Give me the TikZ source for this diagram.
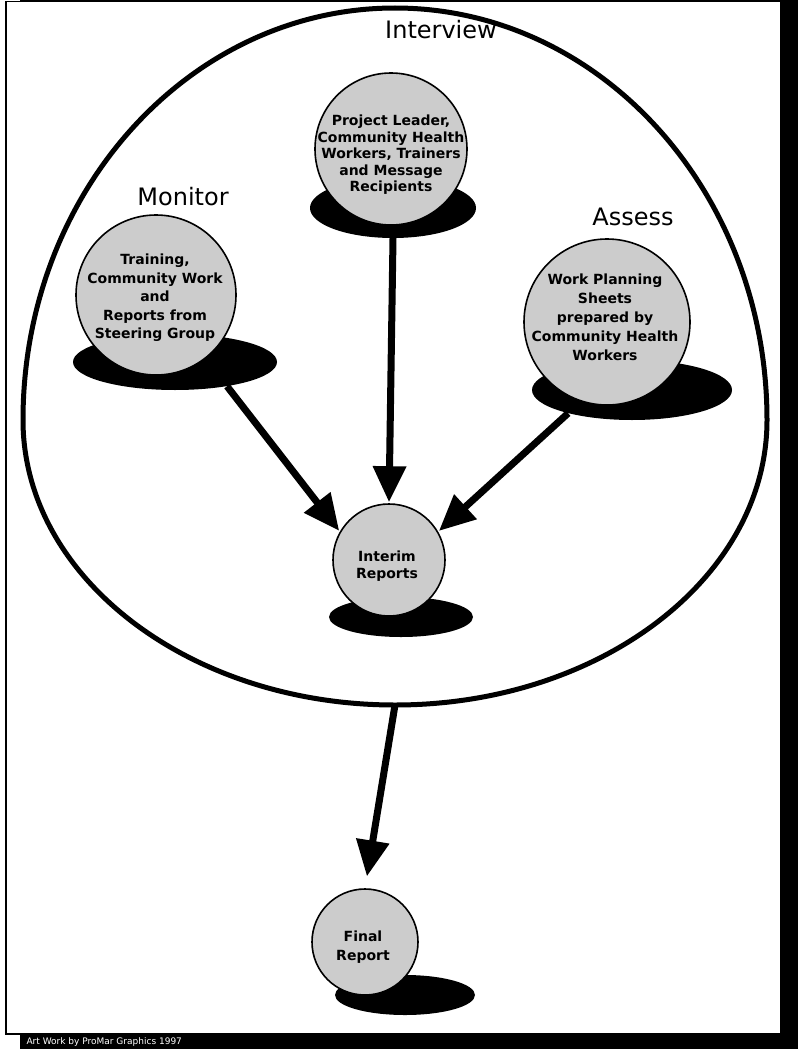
\documentclass[tikz,border=0pt]{standalone}
\usepackage{fontspec}
\setmainfont{DejaVu Sans}
\usetikzlibrary{arrows.meta,shapes.geometric}
\begin{document}
\begin{tikzpicture}[x=1pt,y=-1pt,
 sphere/.style={circle, draw=black, line width=1.6pt, fill=black!20, inner sep=0pt},
 spheretext/.style={align=center, inner sep=0pt, font=\bfseries\fontsize{14}{#1}\selectfont},
 spheretext/.default=18,
 shadowell/.style={ellipse, fill=black, inner sep=0pt},
 lab/.style={font=\fontsize{24}{26}\selectfont},
 arr/.style={line width=7pt, -{Triangle[length=36pt,width=32pt]}, shorten >=1pt},
]
\useasboundingbox (0,0) rectangle (798,1049);
\fill[black] (20,0) rectangle (798,1049);
\draw[fill=white, line width=1.5pt] (6,1.5) rectangle (781,1034);
\node[white, anchor=west, font=\fontsize{9}{10}\selectfont] (credit) at (23,1042) {Art Work by ProMar Graphics 1997};

% outer (hand-drawn, slightly egg-shaped) circle
\draw[line width=5pt] (23,420) arc[start angle=180, end angle=360, x radius=372, y radius=412]
  arc[start angle=0, end angle=180, x radius=372, y radius=285] -- cycle;
\coordinate (outerbottom) at (395,705);

% labels
\node[lab] (linterview) at (441,30) {Interview};
\node[lab] (lmonitor) at (183,197) {Monitor};
\node[lab] (lassess) at (633,217) {Assess};

% shadows
\node[shadowell, minimum width=166pt, minimum height=60pt] (ishad) at (393,208) {};
\node[shadowell, minimum width=204pt, minimum height=56pt] (mshad) at (175,362) {};
\node[shadowell, minimum width=200pt, minimum height=60pt] (ashad) at (632,390) {};
\node[shadowell, minimum width=144pt, minimum height=40pt] (ishad2) at (401,617) {};
\node[shadowell, minimum width=140pt, minimum height=40pt] (fshad) at (405,995) {};

% spheres
\node[sphere, minimum size=152pt] (interview) at (391,149) {};
\node[sphere, minimum size=160pt] (monitor) at (156,295) {};
\node[sphere, minimum size=166pt] (assess) at (607,322) {};
\node[sphere, minimum size=112pt] (interim) at (389,560) {};
\node[sphere, minimum size=106pt] (final) at (365,942) {};

% sphere texts
\node[spheretext=16.5] (interviewtext) at (391,155) {Project Leader,\\Community Health\\Workers, Trainers\\and Message\\Recipients};
\node[spheretext=18.5] (monitortext) at (155,298) {Training,\\Community Work\\and\\Reports from\\Steering Group};
\node[spheretext=19] (assesstext) at (605,317) {Work Planning\\Sheets\\prepared by\\Community Health\\Workers};
\node[spheretext=17.5] (interimtext) at (387,566) {Interim\\Reports};
\node[spheretext=19] (finaltext) at (363,947) {Final\\Report};

% arrows
\draw[arr] (mshad.335) -- (interim.150);
\draw[arr] (ishad.south) -- (interim.north);
\draw[arr] (ashad.200) -- (interim.30);
\draw[arr, shorten >=12pt] (outerbottom) -- (final.north);
\end{tikzpicture}
\end{document}
